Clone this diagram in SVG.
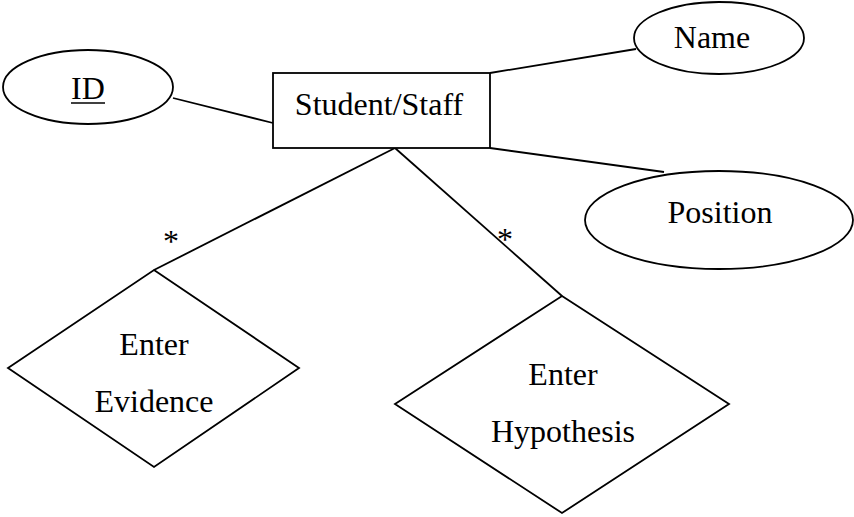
<svg xmlns="http://www.w3.org/2000/svg" width="854" height="517" viewBox="0 0 854 517">
<style>
.s{fill:none;stroke:#000;stroke-width:1.8}
.n{fill:#fff;stroke:#000;stroke-width:1.8}
text{font-family:"Liberation Serif","Times New Roman",serif;font-size:32px;fill:#000;text-anchor:middle}
</style>
<rect width="854" height="517" fill="#fff"/>
<g id="connectors">
<line class="s" x1="173" y1="98" x2="273" y2="123"/>
<line class="s" x1="490" y1="73" x2="636" y2="49"/>
<line class="s" x1="490" y1="148" x2="664" y2="172"/>
<line class="s" x1="395" y1="148" x2="154" y2="270"/>
<line class="s" x1="395" y1="148" x2="562" y2="296"/>
<text x="171" y="252">*</text>
<text x="505" y="250">*</text>
</g>
<g id="student-staff">
<rect class="n" x="273" y="73" width="217" height="75"/>
<text x="379" y="115">Student/Staff</text>
</g>
<g id="id">
<ellipse class="n" cx="88" cy="87" rx="85" ry="37"/>
<text x="88" y="99">ID</text>
<line x1="71" y1="103" x2="105" y2="103" stroke="#000" stroke-width="1.6"/>
</g>
<g id="name">
<ellipse class="n" cx="719" cy="38" rx="85" ry="36"/>
<text x="712" y="48">Name</text>
</g>
<g id="position">
<ellipse class="n" cx="719" cy="220" rx="134" ry="49"/>
<text x="720" y="223">Position</text>
</g>
<g id="enter-evidence">
<polygon class="n" points="154,270 299,368 154,467 8,368"/>
<text x="154" y="355">Enter</text>
<text x="154" y="412">Evidence</text>
</g>
<g id="enter-hypothesis">
<polygon class="n" points="562,296 729,404 562,513 395,404"/>
<text x="563" y="385">Enter</text>
<text x="563" y="442">Hypothesis</text>
</g>
</svg>
